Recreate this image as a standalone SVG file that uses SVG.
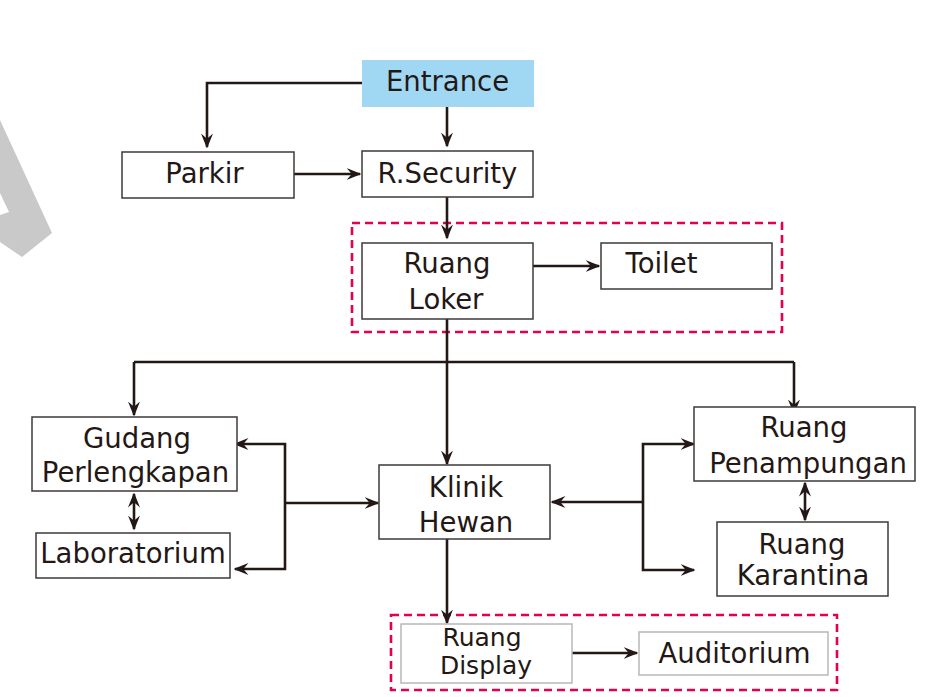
<svg xmlns="http://www.w3.org/2000/svg" width="937" height="697" viewBox="0 0 937 697">
<style>
  .box{fill:#ffffff;stroke:#3e3a39;stroke-width:1.5}
  .lbox{fill:#ffffff;stroke:#b8b8b8;stroke-width:1.5}
  .t{font-family:"DejaVu Sans","Liberation Sans",sans-serif;font-size:27.5px;fill:#231815;text-anchor:middle}
  .s{font-size:25px}
  .c{fill:none;stroke:#231815;stroke-width:2.6}
  .grp{fill:none;stroke:#e5004f;stroke-width:2.6;stroke-dasharray:8 5}
</style>
<defs>
  <marker id="ah" viewBox="0 0 10 10" refX="9" refY="5" markerWidth="15" markerHeight="15" markerUnits="userSpaceOnUse" orient="auto-start-reverse">
    <path d="M0,1 L10,5 L0,9 L3.5,5 z" fill="#231815"/>
  </marker>
</defs>
<rect width="937" height="697" fill="#ffffff"/>
<polygon points="0,120 52,233 22,257 0,242 0,215 9,212 0,193" fill="#c9c9c9"/>

<g id="groups">
  <rect class="grp" x="352" y="223" width="430" height="109"/>
  <rect class="grp" x="391" y="615" width="446" height="75"/>
</g>

<g id="connectors">
  <path class="c" d="M362,83 H207 V147" marker-end="url(#ah)"/>
  <path class="c" d="M447,106 V146" marker-end="url(#ah)"/>
  <path class="c" d="M294,174 H360" marker-end="url(#ah)"/>
  <path class="c" d="M447,197 V238" marker-end="url(#ah)"/>
  <path class="c" d="M533,266 H599" marker-end="url(#ah)"/>
  <path class="c" d="M447,318 V464" marker-end="url(#ah)"/>
  <path class="c" d="M134,362 H794"/>
  <path class="c" d="M134,362 V415" marker-end="url(#ah)"/>
  <path class="c" d="M794,362 V413" marker-end="url(#ah)"/>
  <path class="c" d="M134,494 V529" marker-start="url(#ah)" marker-end="url(#ah)"/>
  <path class="c" d="M235,444 H285 V569 H235" marker-start="url(#ah)" marker-end="url(#ah)"/>
  <path class="c" d="M285,503 H378" marker-end="url(#ah)"/>
  <path class="c" d="M694,444 H643 V570 H694" marker-start="url(#ah)" marker-end="url(#ah)"/>
  <path class="c" d="M643,502 H552" marker-end="url(#ah)"/>
  <path class="c" d="M805,483 V520" marker-start="url(#ah)" marker-end="url(#ah)"/>
  <path class="c" d="M447,539 V623" marker-end="url(#ah)"/>
  <path class="c" d="M572,653 H637" marker-end="url(#ah)"/>
</g>

<g id="entrance">
  <rect x="362" y="60" width="172" height="47" fill="#a0d8f3"/>
  <text class="t" x="447.5" y="91">Entrance</text>
</g>
<g id="parkir">
  <rect class="box" x="122" y="152" width="172" height="46"/>
  <text class="t" x="204.5" y="183">Parkir</text>
</g>
<g id="rsecurity">
  <rect class="box" x="362" y="151" width="171" height="46"/>
  <text class="t" x="447.5" y="183">R.Security</text>
</g>
<g id="ruang-loker">
  <rect class="box" x="362" y="243" width="171" height="76"/>
  <text class="t" x="447" y="273">Ruang</text>
  <text class="t" x="446" y="309">Loker</text>
</g>
<g id="toilet">
  <rect class="box" x="601" y="243" width="171" height="46"/>
  <text class="t" x="661.5" y="273">Toilet</text>
</g>
<g id="gudang">
  <rect class="box" x="32" y="417" width="205" height="74"/>
  <text class="t" x="137" y="448">Gudang</text>
  <text class="t" x="135.5" y="482">Perlengkapan</text>
</g>
<g id="laboratorium">
  <rect class="box" x="36" y="533" width="194" height="45"/>
  <text class="t" x="133" y="563">Laboratorium</text>
</g>
<g id="klinik">
  <rect class="box" x="379" y="465" width="171" height="74"/>
  <text class="t" x="466" y="497">Klinik</text>
  <text class="t" x="466" y="532">Hewan</text>
</g>
<g id="penampungan">
  <rect class="box" x="694" y="407" width="221" height="74"/>
  <text class="t" x="804" y="437">Ruang</text>
  <text class="t" x="808" y="473">Penampungan</text>
</g>
<g id="karantina">
  <rect class="box" x="717" y="522" width="171" height="74"/>
  <text class="t" x="802" y="554">Ruang</text>
  <text class="t" x="803" y="585">Karantina</text>
</g>
<g id="ruang-display">
  <rect class="lbox" x="401" y="624" width="171" height="59"/>
  <text class="t s" x="482" y="646">Ruang</text>
  <text class="t s" x="486" y="674">Display</text>
</g>
<g id="auditorium">
  <rect class="lbox" x="639" y="632" width="189" height="43"/>
  <text class="t" x="734.5" y="663">Auditorium</text>
</g>
</svg>
